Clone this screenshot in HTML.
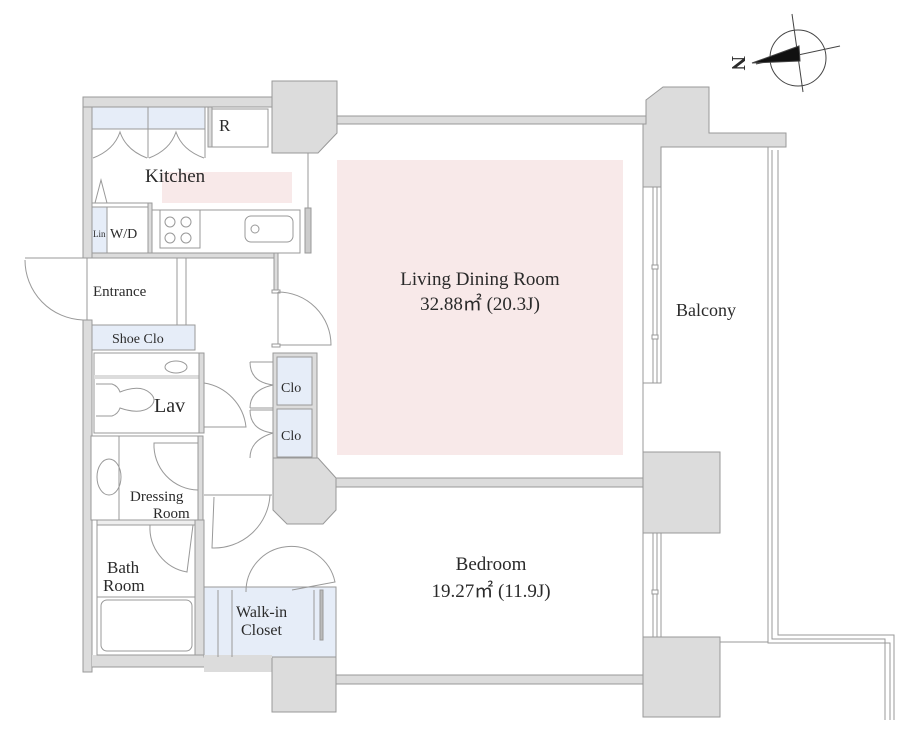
<!DOCTYPE html>
<html><head><meta charset="utf-8"><style>
html,body{margin:0;padding:0;background:#fff;}
svg{display:block;}
text{font-family:"Liberation Serif",serif;fill:#2a2a2a;}
</style></head><body>
<svg width="920" height="756" viewBox="0 0 920 756" xmlns="http://www.w3.org/2000/svg">
<g stroke="#999" stroke-width="1">
<rect x="337" y="160" width="286" height="295" fill="#f8e9e9" stroke="none"/>
<rect x="162" y="172" width="130" height="31" fill="#f8e9e9" stroke="none"/>

<rect x="83" y="97" width="9" height="161" fill="#dcdcdc"/>
<rect x="83" y="320" width="9" height="352" fill="#dcdcdc"/>
<rect x="83" y="97" width="190" height="10" fill="#dcdcdc"/>
<rect x="92" y="655" width="112" height="12" fill="#dcdcdc" stroke="none"/>
<line x1="92" y1="667" x2="204" y2="667"/>
<rect x="336" y="116" width="310" height="8" fill="#dcdcdc"/>
<path d="M272 81 H337 V133 L318 153 H272 Z" fill="#dcdcdc"/>
<path d="M646 100 L663 87 H709 V133 H786 V147 H661 V187 H643 V124 H646 Z" fill="#dcdcdc"/>
<rect x="643" y="187" width="18" height="196" fill="#fff"/>
<line x1="653" y1="187" x2="653" y2="383"/><line x1="657" y1="187" x2="657" y2="383"/>
<rect x="652" y="265" width="6" height="4" fill="#fff"/><rect x="652" y="335" width="6" height="4" fill="#fff"/>
<rect x="643" y="452" width="77" height="81" fill="#dcdcdc"/>
<rect x="643" y="533" width="18" height="104" fill="#fff"/>
<line x1="653" y1="533" x2="653" y2="637"/><line x1="657" y1="533" x2="657" y2="637"/>
<rect x="652" y="590" width="6" height="4" fill="#fff"/>
<rect x="643" y="637" width="77" height="80" fill="#dcdcdc"/>
<line x1="643" y1="124" x2="643" y2="478"/>
<path d="M768 147 V643 H890 V720" fill="none"/>
<path d="M772 150 V639 H885 V720" fill="none"/>
<path d="M778 150 V635 H894 V720" fill="none"/>
<line x1="720" y1="642" x2="768" y2="642"/>
<rect x="336" y="478" width="307" height="9" fill="#dcdcdc"/>
<rect x="336" y="675" width="307" height="9" fill="#dcdcdc"/>
<path d="M273 458 H318 L336 478 V510 L323 524 H287 L273 510 Z" fill="#dcdcdc"/>
<path d="M204 655 H272 V640 H336 V712 H272 V672 H204 Z" fill="#dcdcdc" stroke="none"/>
<path d="M272 640 H336 V712 H272 Z" fill="#dcdcdc"/>

<line x1="308" y1="153" x2="308" y2="210"/>
<rect x="305" y="208" width="6" height="45" fill="#ccc"/>

<rect x="92" y="107" width="113" height="22" fill="#e6edf8"/>
<line x1="148" y1="107" x2="148" y2="158"/>
<line x1="92" y1="129" x2="205" y2="129"/>
<line x1="205" y1="107" x2="205" y2="158"/>
<path d="M93 158 Q114 150 120 132 Q126 150 147 158" fill="none"/>
<path d="M149 158 Q170 150 176 132 Q182 150 204 158" fill="none"/>
<rect x="208" y="107" width="4" height="40" fill="#dcdcdc"/>
<rect x="212" y="109" width="56" height="38" fill="#fff"/>
<rect x="152" y="210" width="148" height="43" fill="#fff"/>
<rect x="160" y="210" width="40" height="38" fill="#fff"/>
<circle cx="170" cy="222" r="5" fill="none"/><circle cx="186" cy="222" r="5" fill="none"/>
<circle cx="170" cy="238" r="5" fill="none"/><circle cx="186" cy="238" r="5" fill="none"/>
<rect x="245" y="216" width="48" height="26" rx="6" fill="#fff"/>
<circle cx="255" cy="229" r="4" fill="none"/>
<rect x="92" y="203" width="56" height="4" fill="#fff"/>
<rect x="148" y="203" width="4" height="50" fill="#dcdcdc"/>
<rect x="92" y="207" width="15" height="46" fill="#e6edf8"/>
<path d="M95 203 L101 180 L107 203" fill="none"/>
<rect x="92" y="253" width="186" height="5" fill="#dcdcdc"/>
<rect x="274" y="253" width="4" height="39" fill="#dcdcdc"/>
<rect x="272" y="290" width="8" height="3" fill="#fff"/>
<line x1="278" y1="292" x2="278" y2="345"/>
<path d="M278 292 A53 53 0 0 1 331 345 H278" fill="none"/>
<rect x="272" y="344" width="8" height="3" fill="#fff"/>
<path d="M83 258 H25" fill="none"/>
<path d="M25 260 A60 60 0 0 0 83 320" fill="none"/>
<line x1="87" y1="258" x2="87" y2="320"/>
<line x1="177" y1="258" x2="177" y2="325"/>
<line x1="186" y1="258" x2="186" y2="325"/>
<rect x="92" y="325" width="103" height="25" fill="#e6edf8"/>
<rect x="94" y="353" width="105" height="80" fill="#fff"/>
<rect x="94" y="375" width="105" height="4" fill="#dcdcdc" stroke="none"/>
<ellipse cx="176" cy="367" rx="11" ry="6" fill="none"/>
<path d="M96 384 H112 Q118 386 120 392 Q140 384 150 393 Q158 400 150 407 Q140 415 120 408 Q118 414 112 416 H96" fill="none"/>
<rect x="199" y="353" width="5" height="80" fill="#dcdcdc"/>
<path d="M204 383 A50 50 0 0 1 246 427 H204" fill="none"/>
<rect x="91" y="436" width="108" height="84" fill="#fff"/>
<line x1="119" y1="436" x2="119" y2="520"/>
<ellipse cx="109" cy="477" rx="12" ry="18" fill="none"/>
<path d="M154 443 H198 V490 A45 45 0 0 1 154 443 Z" fill="none"/>
<rect x="198" y="436" width="5" height="84" fill="#dcdcdc"/>
<rect x="97" y="525" width="98" height="130" fill="#fff"/>
<rect x="97" y="520" width="98" height="5" fill="#eee"/>
<line x1="97" y1="597" x2="195" y2="597"/>
<rect x="101" y="600" width="91" height="51" rx="6" fill="#fff"/>
<path d="M150 525 A45 45 0 0 0 187 572 L193 525" fill="none"/>
<rect x="195" y="520" width="9" height="135" fill="#dcdcdc"/>
<line x1="204" y1="495" x2="272" y2="495"/>
<path d="M214 497 L212 548 A56 56 0 0 0 270 495" fill="none"/>
<rect x="204" y="587" width="132" height="70" fill="#e6edf8"/>
<rect x="204" y="655" width="68" height="3" fill="#dcdcdc" stroke="none"/>
<line x1="218" y1="590" x2="218" y2="657"/><line x1="232" y1="590" x2="232" y2="657"/>
<line x1="314" y1="590" x2="314" y2="640"/><rect x="320" y="590" width="3" height="50" fill="#bbb"/>
<path d="M246 592 A45 45 0 0 1 335 582 L292 590" fill="none"/>
<rect x="273" y="353" width="44" height="105" fill="#dcdcdc"/>
<rect x="277" y="357" width="35" height="48" fill="#e6edf8"/>
<rect x="277" y="409" width="35" height="48" fill="#e6edf8"/>
<path d="M273 362 H250 M250 362 Q250 382 273 385 M250 408 Q250 390 273 385 M273 410 H250 M250 410 Q250 430 273 433 M250 458 Q250 440 273 433" fill="none"/>
<line x1="250" y1="408" x2="273" y2="408"/>
</g>

<g stroke="#444" fill="none" stroke-width="1">
<circle cx="798" cy="58" r="28"/>
<line x1="792" y1="14" x2="803" y2="92"/>
<line x1="756" y1="64" x2="840" y2="46"/>
<path d="M752 63 L799 46 L800 61 Z" fill="#111"/>
</g>
<text x="732" y="70" font-size="20" font-weight="bold" font-family="Liberation Sans, sans-serif" transform="rotate(90 739 63)">N</text>

<text x="145" y="182" font-size="19">Kitchen</text>
<text x="219" y="131" font-size="17">R</text>
<text x="93" y="237" font-size="9">Lin</text>
<text x="110" y="238" font-size="14">W/D</text>
<text x="93" y="296" font-size="15">Entrance</text>
<text x="112" y="343" font-size="14">Shoe Clo</text>
<text x="154" y="412" font-size="20">Lav</text>
<text x="281" y="392" font-size="14">Clo</text>
<text x="281" y="440" font-size="14">Clo</text>
<text x="130" y="501" font-size="15">Dressing</text>
<text x="153" y="518" font-size="15">Room</text>
<text x="107" y="573" font-size="17">Bath</text>
<text x="103" y="591" font-size="17">Room</text>
<text x="236" y="617" font-size="16">Walk-in</text>
<text x="241" y="635" font-size="16">Closet</text>
<text x="480" y="285" font-size="19" text-anchor="middle">Living Dining Room</text>
<text x="480" y="310" font-size="19" text-anchor="middle">32.88㎡ (20.3J)</text>
<text x="491" y="570" font-size="19" text-anchor="middle">Bedroom</text>
<text x="491" y="597" font-size="19" text-anchor="middle">19.27㎡ (11.9J)</text>
<text x="676" y="316" font-size="18">Balcony</text>
</svg>
</body></html>
